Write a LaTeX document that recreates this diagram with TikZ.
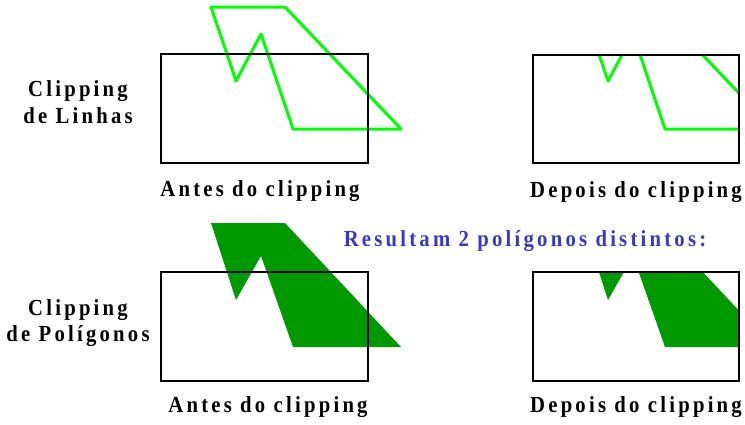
\documentclass[tikz,border=0pt]{standalone}
\usepackage{fontspec}
\setmainfont{Liberation Serif}[FakeStretch=0.9,LetterSpace=14]
\definecolor{linegreen}{RGB}{0,255,0}
\definecolor{fillgreen}{RGB}{0,153,0}
\definecolor{txtblue}{RGB}{56,56,200}
\begin{document}
\begin{tikzpicture}[x=1pt,y=-1pt,
  lbl/.style={inner sep=0pt,anchor=base,font=\fontsize{23}{27}\selectfont\bfseries},
  frame/.style={draw=black,line width=1.5pt},
  poly/.style={draw=linegreen,line width=3pt,line join=round},
  polyfill/.style={fill=fillgreen}]
\useasboundingbox (0,0) rectangle (745,424);
% top left
\draw[poly] (211,7) -- (285,7) -- (401,129) -- (293,129) -- (261,34) -- (236,81) -- cycle;
\draw[frame] (161,54) rectangle (368,163);
% top right
\begin{scope}
\clip (533,55) rectangle (739,163);
\draw[poly] (583,7) -- (657,7) -- (773,129) -- (665,129) -- (633,34) -- (608,81) -- cycle;
\end{scope}
\draw[frame] (533,55) rectangle (739,163);
% bottom left
\fill[polyfill] (211,223) -- (285,223) -- (401,347) -- (293,347) -- (261,256) -- (236,300) -- cycle;
\draw[frame] (161,272) rectangle (368,381);
% bottom right
\begin{scope}
\clip (533,272) rectangle (739,381);
\fill[polyfill] (583,223) -- (657,223) -- (773,347) -- (665,347) -- (633,256) -- (608,300) -- cycle;
\end{scope}
\draw[frame] (533,272) rectangle (739,381);
% labels
\node[lbl] (l1a) at (78,96) {Clipping};
\node[lbl] (l1b) at (78,123) {de Linhas};
\node[lbl] (l2a) at (78,315) {Clipping};
\node[lbl] (l2b) at (78,341) {de Polígonos};
\node[lbl] (t1) at (260,196) {Antes do clipping};
\node[lbl] (t2) at (636,197) {Depois do clipping};
\node[lbl] (b1) at (268,412) {Antes do clipping};
\node[lbl] (b2) at (636,412) {Depois do clipping};
\node[lbl,text=txtblue] (res) at (525,246) {Resultam 2 polígonos distintos:};
\end{tikzpicture}
\end{document}
